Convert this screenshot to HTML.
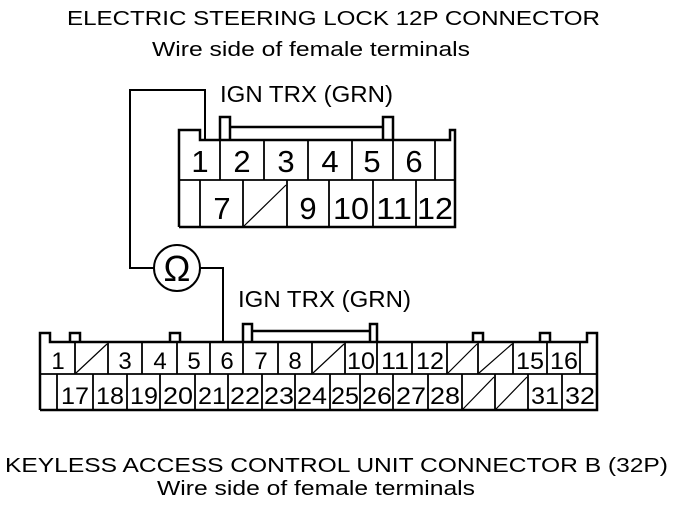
<!DOCTYPE html>
<html><head><meta charset="utf-8"><style>
html,body{margin:0;padding:0;background:#fff;}
svg{display:block;}
text{font-family:"Liberation Sans",sans-serif;fill:#000;}
</style></head><body>
<svg width="688" height="506" viewBox="0 0 688 506" xmlns="http://www.w3.org/2000/svg">
<g font-size="20">
<text x="67" y="25" textLength="533" lengthAdjust="spacingAndGlyphs">ELECTRIC STEERING LOCK 12P CONNECTOR</text>
<text x="152" y="56" textLength="318" lengthAdjust="spacingAndGlyphs">Wire side of female terminals</text>
<text x="5" y="472" textLength="663" lengthAdjust="spacingAndGlyphs">KEYLESS ACCESS CONTROL UNIT CONNECTOR B (32P)</text>
<text x="157" y="495" textLength="318" lengthAdjust="spacingAndGlyphs">Wire side of female terminals</text>
</g>
<g font-size="23">
<text x="220" y="102" textLength="173" lengthAdjust="spacingAndGlyphs">IGN TRX (GRN)</text>
<text x="238" y="307" textLength="173" lengthAdjust="spacingAndGlyphs">IGN TRX (GRN)</text>
</g>
<!-- wire -->
<g fill="none" stroke="#000" stroke-width="2">
<polyline points="205,140 205,90 130,90 130,268 154,268"/>
<circle cx="177" cy="268" r="23"/>
<polyline points="200,268 223,268 223,342"/>
</g>
<text x="177" y="281" font-size="36" text-anchor="middle">Ω</text>

<!-- top connector -->
<g fill="none" stroke="#000" stroke-width="2.5">
<path d="M179,227 L179,130 L200,130 L200,140 L450,140 L450,130 L455,130 L455,227 L179,227"/>
<path d="M220,140 L220,117 L230,117 L230,140 M383,140 L383,117 L393,117 L393,140 M230,127 L383,127"/>
</g>
<g stroke="#000" stroke-width="1.8">
<line x1="179" y1="180" x2="455" y2="180"/>
<line x1="220" y1="140" x2="220" y2="180"/><line x1="264" y1="140" x2="264" y2="180"/>
<line x1="308" y1="140" x2="308" y2="180"/><line x1="352" y1="140" x2="352" y2="180"/>
<line x1="393" y1="140" x2="393" y2="180"/><line x1="435" y1="140" x2="435" y2="180"/>
<line x1="200" y1="180" x2="200" y2="227"/><line x1="243" y1="180" x2="243" y2="227"/>
<line x1="287" y1="180" x2="287" y2="227"/><line x1="329" y1="180" x2="329" y2="227"/>
<line x1="373" y1="180" x2="373" y2="227"/><line x1="416" y1="180" x2="416" y2="227"/>
<line x1="244" y1="226" x2="286" y2="185" stroke-width="1.2"/>
</g>
<g font-size="31" text-anchor="middle">
<text x="200" y="172">1</text><text x="242" y="172">2</text><text x="286" y="172">3</text>
<text x="330" y="172">4</text><text x="372" y="172">5</text><text x="414" y="172">6</text>
<text x="222" y="219">7</text><text x="308" y="219">9</text>
<text x="351" y="219" textLength="36" lengthAdjust="spacingAndGlyphs">10</text>
<text x="394" y="219" textLength="36" lengthAdjust="spacingAndGlyphs">11</text>
<text x="435" y="219" textLength="36" lengthAdjust="spacingAndGlyphs">12</text>
</g>

<!-- bottom connector -->
<g fill="none" stroke="#000" stroke-width="2.5">
<path d="M40,410 L40,333 L50,333 L50,342 L587,342 L587,333 L597,333 L597,410 L40,410"/>
<path d="M70,342 L70,333 L80,333 L80,342 M170,342 L170,333 L180,333 L180,342 M473,342 L473,333 L483,333 L483,342 M540,342 L540,333 L550,333 L550,342"/>
<path d="M243,342 L243,324 L252,324 L252,342 M370,342 L370,324 L377,324 L377,342 M252,331 L370,331"/>
</g>
<g stroke="#000" stroke-width="1.8">
<line x1="40" y1="374" x2="597" y2="374"/>
<line x1="75" y1="342" x2="75" y2="374"/><line x1="108" y1="342" x2="108" y2="374"/>
<line x1="142" y1="342" x2="142" y2="374"/><line x1="177" y1="342" x2="177" y2="374"/>
<line x1="210" y1="342" x2="210" y2="374"/><line x1="243" y1="342" x2="243" y2="374"/>
<line x1="278" y1="342" x2="278" y2="374"/><line x1="312" y1="342" x2="312" y2="374"/>
<line x1="345" y1="342" x2="345" y2="374"/><line x1="377" y1="342" x2="377" y2="374"/>
<line x1="412" y1="342" x2="412" y2="374"/><line x1="447" y1="342" x2="447" y2="374"/>
<line x1="478" y1="342" x2="478" y2="374"/><line x1="513" y1="342" x2="513" y2="374"/>
<line x1="547" y1="342" x2="547" y2="374"/><line x1="580" y1="342" x2="580" y2="374"/>
<line x1="57" y1="374" x2="57" y2="410"/><line x1="93" y1="374" x2="93" y2="410"/>
<line x1="127" y1="374" x2="127" y2="410"/><line x1="160" y1="374" x2="160" y2="410"/>
<line x1="195" y1="374" x2="195" y2="410"/><line x1="228" y1="374" x2="228" y2="410"/>
<line x1="262" y1="374" x2="262" y2="410"/><line x1="295" y1="374" x2="295" y2="410"/>
<line x1="330" y1="374" x2="330" y2="410"/><line x1="360" y1="374" x2="360" y2="410"/>
<line x1="393" y1="374" x2="393" y2="410"/><line x1="428" y1="374" x2="428" y2="410"/>
<line x1="462" y1="374" x2="462" y2="410"/><line x1="495" y1="374" x2="495" y2="410"/>
<line x1="528" y1="374" x2="528" y2="410"/><line x1="562" y1="374" x2="562" y2="410"/>
<g stroke-width="1.2">
<line x1="76" y1="373" x2="107" y2="344"/>
<line x1="313" y1="373" x2="344" y2="344"/>
<line x1="448" y1="373" x2="477" y2="344"/>
<line x1="479" y1="373" x2="512" y2="344"/>
<line x1="463" y1="409" x2="494" y2="377"/>
<line x1="496" y1="409" x2="527" y2="377"/>
</g>
</g>
<g font-size="24" text-anchor="middle">
<text x="58" y="369">1</text><text x="125" y="369">3</text><text x="160" y="369">4</text>
<text x="194" y="369">5</text><text x="227" y="369">6</text><text x="261" y="369">7</text>
<text x="295" y="369">8</text>
<text x="361" y="369" textLength="28" lengthAdjust="spacingAndGlyphs">10</text>
<text x="395" y="369" textLength="28" lengthAdjust="spacingAndGlyphs">11</text>
<text x="430" y="369" textLength="28" lengthAdjust="spacingAndGlyphs">12</text>
<text x="530" y="369" textLength="28" lengthAdjust="spacingAndGlyphs">15</text>
<text x="564" y="369" textLength="28" lengthAdjust="spacingAndGlyphs">16</text>
<text x="75" y="404" textLength="28" lengthAdjust="spacingAndGlyphs">17</text>
<text x="110" y="404" textLength="28" lengthAdjust="spacingAndGlyphs">18</text>
<text x="144" y="404" textLength="28" lengthAdjust="spacingAndGlyphs">19</text>
<text x="178" y="404" textLength="30" lengthAdjust="spacingAndGlyphs">20</text>
<text x="212" y="404" textLength="28" lengthAdjust="spacingAndGlyphs">21</text>
<text x="245" y="404" textLength="30" lengthAdjust="spacingAndGlyphs">22</text>
<text x="279" y="404" textLength="30" lengthAdjust="spacingAndGlyphs">23</text>
<text x="312" y="404" textLength="30" lengthAdjust="spacingAndGlyphs">24</text>
<text x="345" y="404" textLength="28" lengthAdjust="spacingAndGlyphs">25</text>
<text x="377" y="404" textLength="30" lengthAdjust="spacingAndGlyphs">26</text>
<text x="411" y="404" textLength="30" lengthAdjust="spacingAndGlyphs">27</text>
<text x="445" y="404" textLength="30" lengthAdjust="spacingAndGlyphs">28</text>
<text x="545" y="404" textLength="28" lengthAdjust="spacingAndGlyphs">31</text>
<text x="580" y="404" textLength="30" lengthAdjust="spacingAndGlyphs">32</text>
</g>
</svg>
</body></html>
